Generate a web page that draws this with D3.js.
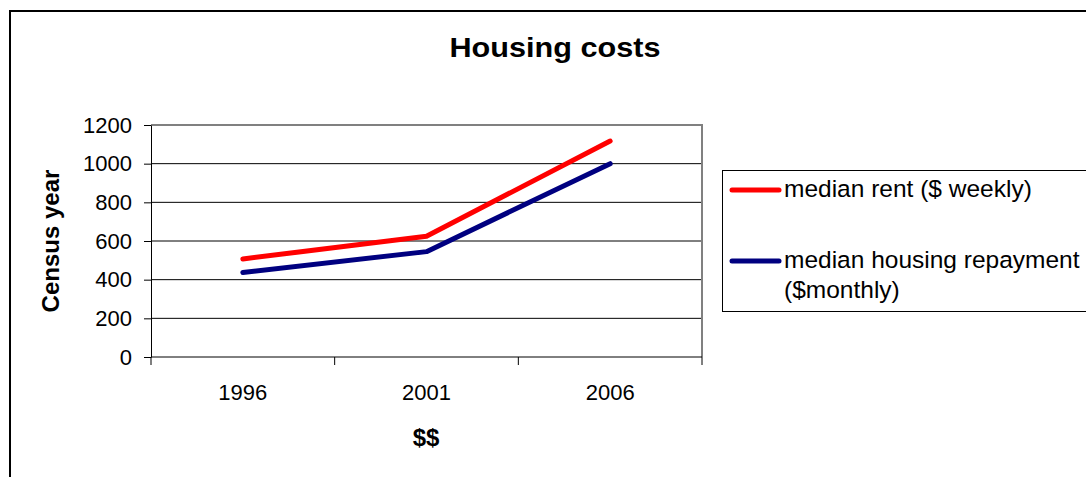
<!DOCTYPE html>
<html>
<head>
<meta charset="utf-8">
<script src="https://cdn.jsdelivr.net/npm/d3@7"></script>
<style>
  body { margin: 0; background: #fff; }
  svg { font-family: "Liberation Sans", Arial, sans-serif; }
</style>
</head>
<body>
<svg id="chart" width="1086" height="477"></svg>
<script>
// census years and values
const years = ["1996", "2001", "2006"];
const rentWeekly = [507, 625, 1117];
const repaymentMonthly = [437, 545, 1000];
const yTicks = [0, 200, 400, 600, 800, 1000, 1200];
const seriesNames = ["median rent ($ weekly)", "median housing repayment ($monthly)"];
const seriesColors = ["#ff0000", "#000080"];

const svg = d3.select("#chart");

// outer chart border (runs off the right/bottom edge)
svg.append("rect")
    .attr("x", 10).attr("y", 11)
    .attr("width", 1100).attr("height", 500)
    .attr("fill", "none")
    .attr("stroke", "#000")
    .attr("stroke-width", 2);

const plot = { left: 151, right: 702, top: 125, bottom: 357 };

const x = d3.scaleBand()
    .domain(years)
    .range([plot.left, plot.right]);

const y = d3.scaleLinear()
    .domain([0, 1200])
    .range([plot.bottom, plot.top]);

// gridlines
svg.append("g")
    .selectAll("line")
    .data(yTicks.filter(d => d > 0 && d < 1200))
    .enter()
    .append("line")
    .attr("x1", plot.left).attr("x2", plot.right)
    .attr("y1", d => y(d)).attr("y2", d => y(d))
    .attr("stroke", "#000")
    .attr("stroke-width", 1);

// plot area border (top + right, gray)
svg.append("path")
    .attr("d", `M${plot.left},${plot.top}H${plot.right}V${plot.bottom}`)
    .attr("fill", "none")
    .attr("stroke", "#808080")
    .attr("stroke-width", 2);

// y axis
const yAxis = svg.append("g")
    .attr("transform", `translate(${plot.left},0)`)
    .call(d3.axisLeft(y).tickValues(yTicks).tickFormat(d3.format("d"))
        .tickSize(7).tickSizeOuter(0).tickPadding(12));
yAxis.selectAll("text").style("font-size", "22px").attr("fill", "#000");
yAxis.selectAll("line, path").attr("stroke", "#000");

// x axis: ticks between categories
const xAxis = svg.append("g")
    .attr("transform", `translate(0,${plot.bottom})`);
xAxis.append("line")
    .attr("x1", plot.left).attr("x2", plot.right)
    .attr("stroke", "#000");
const bounds = years.map(d => x(d)).concat([x.range()[1]]);
xAxis.selectAll("line.tick")
    .data(bounds)
    .enter()
    .append("line")
    .attr("class", "tick")
    .attr("x1", d => d).attr("x2", d => d)
    .attr("y1", 0).attr("y2", 8)
    .attr("stroke", "#000");
xAxis.selectAll("text")
    .data(years)
    .enter()
    .append("text")
    .attr("x", d => x(d) + x.bandwidth() / 2)
    .attr("y", 43)
    .attr("text-anchor", "middle")
    .style("font-size", "22px")
    .text(d => d);

// lines
const line = d3.line()
    .x((d, i) => x(years[i]) + x.bandwidth() / 2)
    .y(d => y(d));

[rentWeekly, repaymentMonthly].forEach((vals, i) => {
    svg.append("path")
        .datum(vals)
        .attr("d", line)
        .attr("fill", "none")
        .attr("stroke", seriesColors[i])
        .attr("stroke-width", 5)
        .attr("stroke-linecap", "round")
        .attr("stroke-linejoin", "round");
});

// titles
svg.append("text")
    .attr("x", 555).attr("y", 57)
    .attr("text-anchor", "middle")
    .attr("textLength", 211)
    .attr("lengthAdjust", "spacingAndGlyphs")
    .style("font-size", "27px").style("font-weight", "bold")
    .text("Housing costs");

svg.append("text")
    .attr("x", 426).attr("y", 446)
    .attr("text-anchor", "middle")
    .style("font-size", "24px").style("font-weight", "bold")
    .text("$$");

svg.append("text")
    .attr("transform", "translate(59,241) rotate(-90)")
    .attr("text-anchor", "middle")
    .style("font-size", "24px").style("font-weight", "bold")
    .text("Census year");

// legend
const legend = svg.append("g");
legend.append("rect")
    .attr("x", 722.5).attr("y", 170.5)
    .attr("width", 400).attr("height", 141)
    .attr("fill", "#fff")
    .attr("stroke", "#000")
    .attr("stroke-width", 1);

const legendRows = [
    { y: 190, lines: ["median rent ($ weekly)"] },
    { y: 261, lines: ["median housing repayment", "($monthly)"] }
];
legendRows.forEach((r, i) => {
    legend.append("line")
        .attr("x1", 732).attr("x2", 779)
        .attr("y1", r.y).attr("y2", r.y)
        .attr("stroke", seriesColors[i])
        .attr("stroke-width", 5)
        .attr("stroke-linecap", "round");
    const t = legend.append("text")
        .attr("x", 784).attr("y", r.y + 7)
        .style("font-size", "24.5px");
    r.lines.forEach((l, j) => {
        t.append("tspan")
            .attr("x", 784)
            .attr("dy", j === 0 ? 0 : 30)
            .text(l);
    });
});
</script>
</body>
</html>
